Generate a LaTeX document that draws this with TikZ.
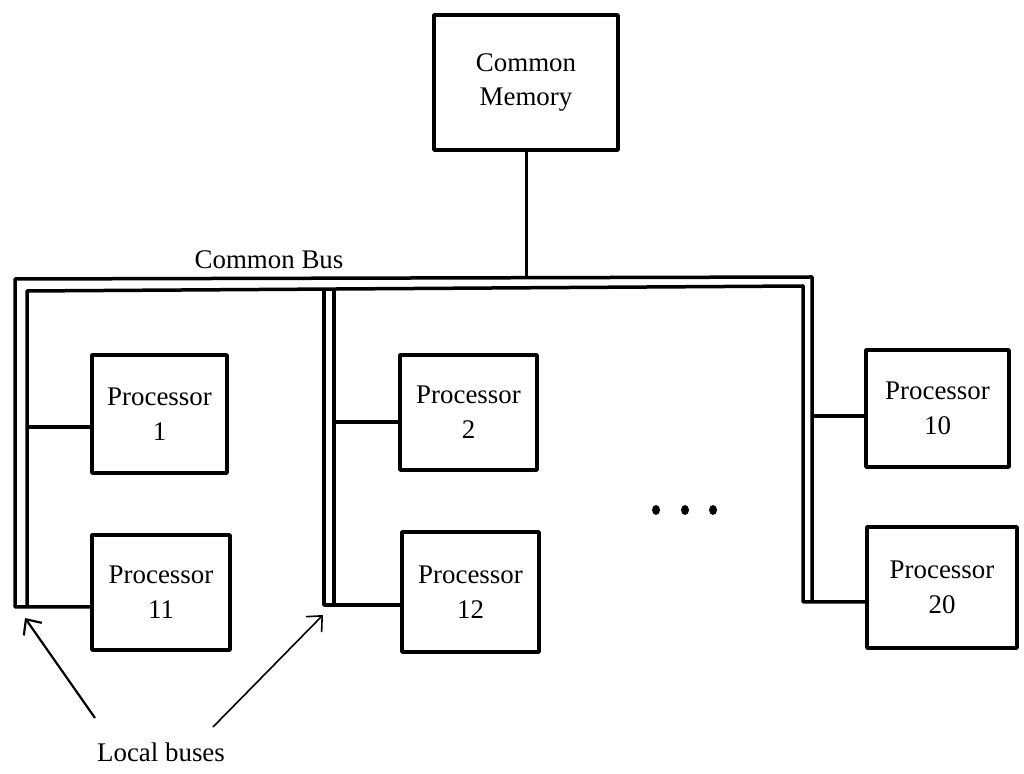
\documentclass[tikz,border=0pt]{standalone}
\usepackage{fontspec}
\setmainfont{Liberation Serif}
\usetikzlibrary{arrows.meta}
\tikzset{
  proc/.style={draw,line width=4bp,align=center,inner sep=0pt},
  bus/.style={line width=3.5bp,line join=round},
  tap/.style={line width=4bp},
}
\begin{document}
\begin{tikzpicture}[>={Straight Barb[length=12bp,width=22bp]},line join=bevel,font=\fontsize{27}{35}\selectfont]
\useasboundingbox (0,0) rectangle (1024bp,774bp);
%%
\node (mem) at (526bp,691.5bp) [proc,minimum width=184bp,minimum height=135bp] {Common\\Memory};
  \node (p1) at (159.5bp,360bp) [proc,minimum width=135bp,minimum height=118bp] {Processor\\1};
  \node (p11) at (161bp,181.5bp) [proc,minimum width=138bp,minimum height=115bp] {Processor\\11};
  \node (p2) at (468.5bp,361.5bp) [proc,minimum width=137bp,minimum height=115bp] {Processor\\2};
  \node (p12) at (470.5bp,182bp) [proc,minimum width=137bp,minimum height=120bp] {Processor\\12};
  \node (p10) at (937.5bp,365.5bp) [proc,minimum width=143bp,minimum height=117bp] {Processor\\10};
  \node (p20) at (942bp,186.5bp) [proc,minimum width=150bp,minimum height=121bp] {Processor\\20};
  \node (cbus) at (269bp,514bp) [draw=none] {Common Bus};
  \node (lbus) at (161bp,22bp) [draw=none] {Local buses};
%
\coordinate (bus_ol) at (15bp,495bp);
  \coordinate (bus_or) at (812bp,497bp);
  \coordinate (bus_il) at (27bp,483bp);
  \coordinate (bus_ir) at (803bp,488bp);
  \coordinate (tap1) at (27bp,347bp);
  \coordinate (tap11) at (15bp,167bp);
  \coordinate (tap2) at (334bp,352bp);
  \coordinate (tap12) at (324bp,169bp);
  \coordinate (tap10) at (812bp,358bp);
  \coordinate (tap20) at (803bp,172bp);
  \coordinate (ptr_l) at (25bp,156bp);
  \coordinate (ptr_r) at (323bp,159bp);
%
\draw [bus] (tap11 -| p11.west) -- (tap11) -- (bus_ol) -- (bus_or) -- (bus_or |- tap20);
  \draw [bus] (bus_il |- tap11) -- (bus_il) -- (bus_ir) -- (tap20) -- (tap20 -| p20.west);
  \draw [bus] (tap12 -| p12.west) -- (tap12) -- (324bp,485bp);
  \draw [bus] (tap2 |- tap12) -- (334bp,485bp);
  \draw [line width=3bp] (mem.south) -- (mem.south |- bus_ol);
  \draw [tap] (tap1) -- (tap1 -| p1.west);
  \draw [tap] (tap2) -- (tap2 -| p2.west);
  \draw [tap] (tap10) -- (tap10 -| p10.west);
%
\foreach \x in {656,685,713}
  \fill (\x bp,264bp) ellipse [x radius=4bp,y radius=5bp];
%
\draw [black,->,line width=2.2bp] (95bp,56bp) -- (ptr_l);
  \draw [black,->,line width=1.6bp] (213bp,47bp) -- (ptr_r);
%
\end{tikzpicture}
\end{document}
